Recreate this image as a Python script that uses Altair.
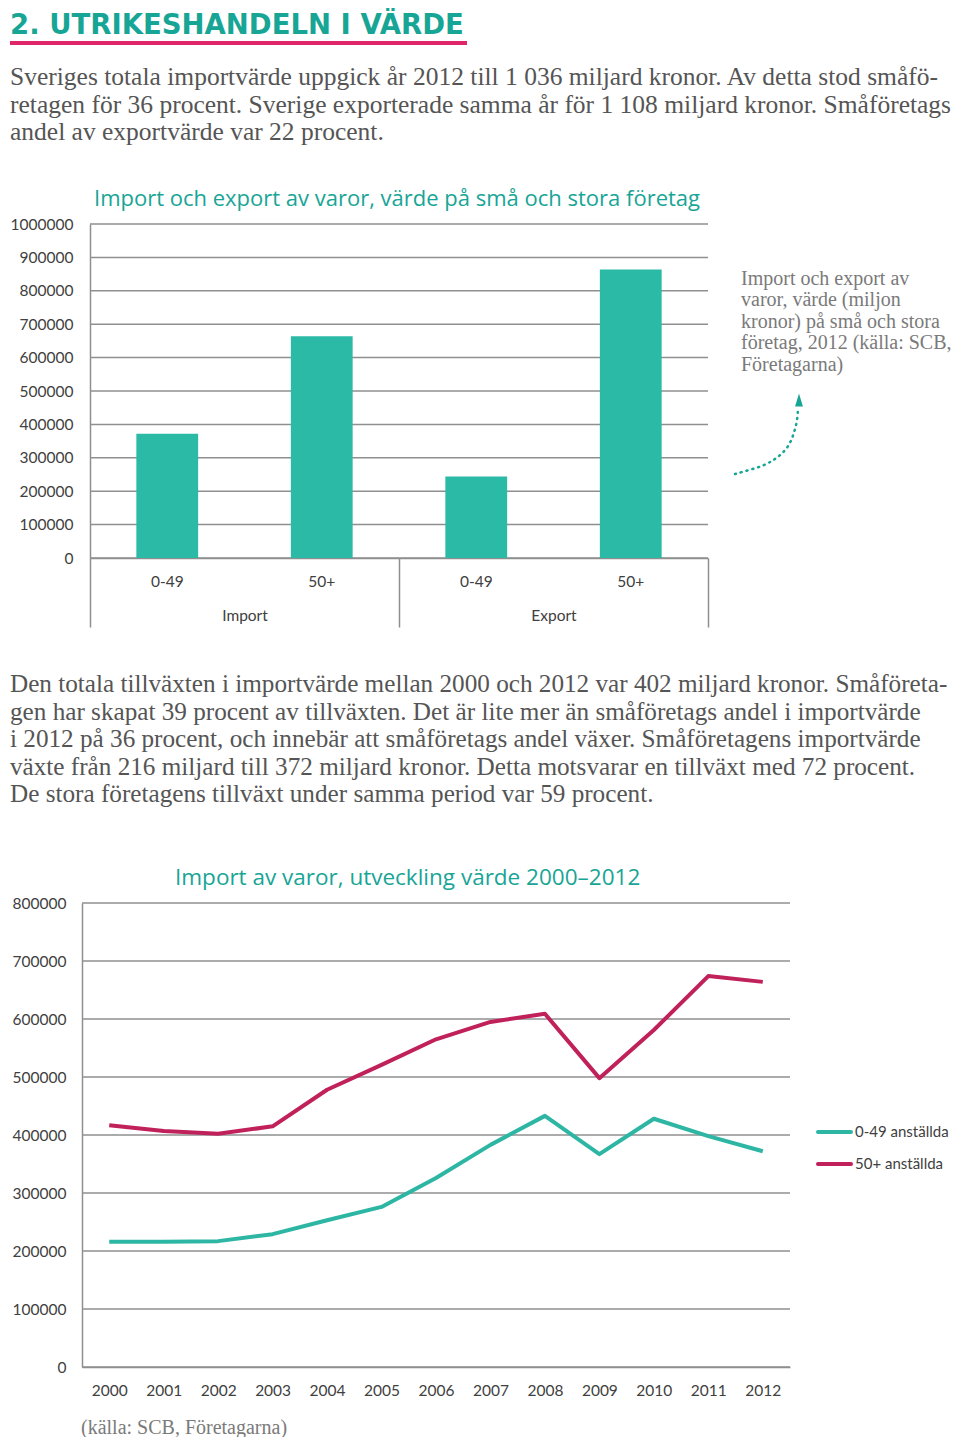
import altair as alt
import pandas as pd

# ---------------- text content ----------------
heading = "2. UTRIKESHANDELN I VÄRDE"
intro_lines = [
    "Sveriges totala importvärde uppgick år 2012 till 1 036 miljard kronor. Av detta stod småfö-",
    "retagen för 36 procent. Sverige exporterade samma år för 1 108 miljard kronor. Småföretags",
    "andel av exportvärde var 22 procent.",
]
growth_lines = [
    "Den totala tillväxten i importvärde mellan 2000 och 2012 var 402 miljard kronor. Småföreta-",
    "gen har skapat 39 procent av tillväxten. Det är lite mer än småföretags andel i importvärde",
    "i 2012 på 36 procent, och innebär att småföretags andel växer. Småföretagens importvärde",
    "växte från 216 miljard till 372 miljard kronor. Detta motsvarar en tillväxt med 72 procent.",
    "De stora företagens tillväxt under samma period var 59 procent.",
]
note_lines = [
    "Import och export av",
    "varor, värde (miljon",
    "kronor) på små och stora",
    "företag, 2012 (källa: SCB,",
    "Företagarna)",
]
bar_title = "Import och export av varor, värde på små och stora företag"
line_title = "Import av varor, utveckling värde 2000–2012"
source_note = "(källa: SCB, Företagarna)"

# ---------------- bar chart data ----------------
group_names = ["Import", "Export"]
bar_groups = ["Import", "Import", "Export", "Export"]
bar_sizes = ["0-49", "50+", "0-49", "50+"]
bar_values = [372000, 664000, 244000, 864000]
bar_ticks = [0, 100000, 200000, 300000, 400000, 500000, 600000, 700000, 800000, 900000, 1000000]

# ---------------- line chart data ----------------
years = [2000, 2001, 2002, 2003, 2004, 2005, 2006, 2007, 2008, 2009, 2010, 2011, 2012]
series_names = ["0-49 anställda", "50+ anställda"]
small_firms = [216000, 216000, 217000, 229000, 253000, 276000, 326000, 383000, 433000, 367000, 428000, 398000, 372000]
large_firms = [417000, 407000, 402000, 415000, 478000, 521000, 565000, 595000, 609000, 498000, 581000, 674000, 664000]
line_ticks = [0, 100000, 200000, 300000, 400000, 500000, 600000, 700000, 800000]

# ---------------- styles ----------------
TEAL_TXT = "#17a596"
PINK = "#e0256b"
BAR = "#2bbaa5"
TEAL_LINE = "#2db6a3"
MAGENTA = "#c1215a"
GRID = "#8f8f8f"
BODY = "#555555"
NOTE = "#7a7a7a"
AXIS_TXT = "#404040"
SANS = "Lato"
TITLE_SANS = "Open Sans"
HEAD_SANS = "DejaVu Sans"
SERIF = "Liberation Serif"

W, H = 944, 1421
one = pd.DataFrame({"_": [0]})


def text_layer(text, x, y, size, color, font, line_height=None, weight="normal"):
    kw = dict(align="left", baseline="alphabetic", font=font, fontSize=size,
              color=color, fontWeight=weight)
    if line_height is not None:
        kw["lineHeight"] = line_height
    return alt.Chart(one).mark_text(**kw).encode(
        x=alt.value(x), y=alt.value(y), text=alt.value(text))


# ---------------- header ----------------
head = text_layer(heading, 2, 25.5, 27.5, TEAL_TXT, HEAD_SANS, weight="bold")
underline = alt.Chart(one).mark_rule(color=PINK, strokeWidth=4).encode(
    x=alt.value(2), x2=alt.value(459), y=alt.value(35))
intro = text_layer(intro_lines, 2, 77, 25.5, BODY, SERIF, line_height=27.5)

# ---------------- bar chart ----------------
bar_df = pd.DataFrame({"grupp": bar_groups, "storlek": bar_sizes, "varde": bar_values})
bar_df["key"] = bar_df["grupp"] + "|" + bar_df["storlek"]
bar_y_scale = alt.Scale(domain=[0, 1000000], range=[550, 216], nice=False)

bar_grid = alt.Chart(pd.DataFrame({"v": bar_ticks})).mark_rule(
    color=GRID, strokeWidth=1.5).encode(
    y=alt.Y("v:Q", scale=bar_y_scale, axis=None),
    x=alt.value(82), x2=alt.value(700))

bars = alt.Chart(bar_df).mark_bar(color=BAR).encode(
    x=alt.X("key:N", sort=list(bar_df["key"]),
            scale=alt.Scale(range=[82, 700], paddingInner=0.6, paddingOuter=0.3),
            axis=alt.Axis(orient="bottom", offset=550 - H, title=None, labelAngle=0,
                          labelExpr="split(datum.value, '|')[1]", ticks=False, tickSize=0,
                          labelPadding=23, labelBaseline="middle",
                          domainColor=GRID, domainWidth=1.5)),
    y=alt.Y("varde:Q", scale=bar_y_scale,
            axis=alt.Axis(orient="left", offset=-82, title=None, values=bar_ticks,
                          format="d", ticks=False, tickSize=0, labelPadding=17, grid=False,
                          domainColor=GRID, domainWidth=1.5)))

groups = alt.Chart(pd.DataFrame({"grupp": group_names})).mark_point(opacity=0).encode(
    x=alt.X("grupp:N", sort=group_names,
            scale=alt.Scale(type="band", range=[82, 700], paddingInner=0, paddingOuter=0),
            axis=alt.Axis(orient="bottom", offset=550 - H, title=None, labelAngle=0,
                          domain=False, ticks=True, tickBand="extent", tickSize=69,
                          tickColor=GRID, tickWidth=1.5, labelPadding=-12,
                          labelBaseline="middle")),
    y=alt.value(550))

bar_head = text_layer(bar_title, 86, 198, 22, TEAL_TXT, TITLE_SANS)
note = text_layer(note_lines, 733, 276.5, 20, NOTE, SERIF, line_height=21.5)

arrow_df = pd.DataFrame({"px": [727, 741, 755, 766, 775, 782, 786, 789, 790],
                         "py": [466, 462, 458, 452, 445, 436, 425, 414, 402]})
arrow = alt.Chart(arrow_df).mark_line(
    color=TEAL_TXT, strokeWidth=2.5, strokeDash=[1, 5], strokeCap="round",
    interpolate="basis").encode(
    x=alt.X("px:Q", scale=None), y=alt.Y("py:Q", scale=None))
arrow_head = alt.Chart(one).mark_point(
    shape="M0,-1L0.6,1L-0.6,1Z", filled=True, size=170, color=TEAL_TXT, opacity=1).encode(
    x=alt.value(791), y=alt.value(392))

# ---------------- paragraph 2 ----------------
growth = text_layer(growth_lines, 2, 684, 25.2, BODY, SERIF, line_height=27.5)

# ---------------- line chart ----------------
line_df = pd.DataFrame({
    "year": years + years,
    "serie": [series_names[0]] * len(years) + [series_names[1]] * len(years),
    "varde": small_firms + large_firms,
})
line_y_scale = alt.Scale(domain=[0, 800000], range=[1359, 895], nice=False)
color_scale = alt.Scale(domain=series_names, range=[TEAL_LINE, MAGENTA])

line_grid = alt.Chart(pd.DataFrame({"v": line_ticks})).mark_rule(
    color=GRID, strokeWidth=1.5).encode(
    y=alt.Y("v:Q", scale=line_y_scale, axis=None),
    x=alt.value(74), x2=alt.value(782))

lines = alt.Chart(line_df).mark_line(strokeWidth=4, strokeJoin="round").encode(
    x=alt.X("year:O", scale=alt.Scale(type="point", range=[74, 782], padding=0.5),
            axis=alt.Axis(orient="bottom", offset=1359 - H, title=None, labelAngle=0,
                          ticks=False, tickSize=0, labelPadding=23, labelBaseline="middle",
                          domainColor=GRID, domainWidth=1.5)),
    y=alt.Y("varde:Q", scale=line_y_scale,
            axis=alt.Axis(orient="left", offset=-74, title=None, values=line_ticks,
                          format="d", ticks=False, tickSize=0, labelPadding=16, grid=False,
                          domainColor=GRID, domainWidth=1.5)),
    color=alt.Color("serie:N", scale=color_scale, legend=None))

# legend drawn from the series names through a point scale
legend_df = pd.DataFrame({"serie": series_names})
legend_y = alt.Y("serie:N", scale=alt.Scale(type="point", domain=series_names,
                                            range=[1124, 1156], padding=0), axis=None)
legend_keys = alt.Chart(legend_df).mark_rule(strokeWidth=4, strokeCap="round").encode(
    y=legend_y, x=alt.value(810), x2=alt.value(843),
    color=alt.Color("serie:N", scale=color_scale, legend=None))
legend_labels = alt.Chart(legend_df).mark_text(
    align="left", baseline="middle", font=SANS, fontSize=15, color=AXIS_TXT).encode(
    y=legend_y, x=alt.value(847), text="serie:N")

line_head = text_layer(line_title, 167, 877, 22.5, TEAL_TXT, TITLE_SANS)
source = text_layer(source_note, 73, 1425.5, 20, NOTE, SERIF)

chart = alt.layer(
    head, underline, intro,
    bar_grid, bars, groups, bar_head, note, arrow, arrow_head,
    growth,
    line_grid, lines, legend_keys, legend_labels, line_head, source,
).resolve_scale(
    x="independent", y="independent"
).properties(
    width=W, height=H, padding=0
).configure_view(
    stroke=None
).configure_axis(
    labelFont=SANS, labelFontSize=15.5, labelColor=AXIS_TXT
)

chart.save("out.html", embed_options={"renderer": "svg", "actions": False})
